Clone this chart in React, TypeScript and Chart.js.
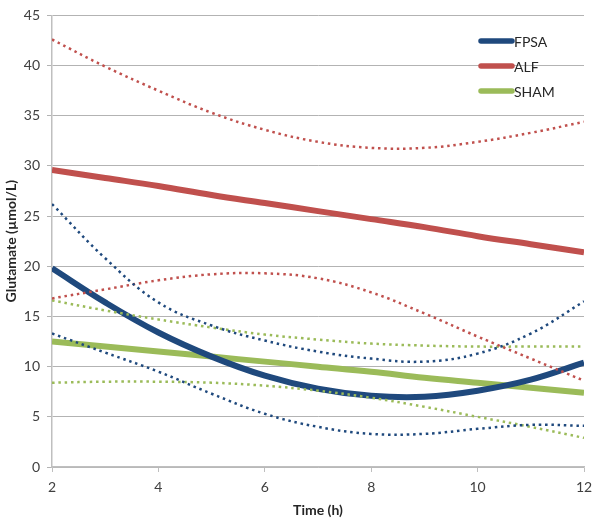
import React, { useEffect, useRef } from "react";
import { Chart, registerables } from "chart.js";
Chart.register(...registerables);

const times = [2, 3, 4, 5, 6, 7, 8, 9, 10, 11, 12];
const fpsa = [19.8, 16.4, 13.4, 11.0, 9.1, 7.8, 7.1, 7.0, 7.6, 8.7, 10.4];
const fpsaUpper = [26.2, 20.8, 16.4, 14.1, 12.6, 11.5, 10.8, 10.5, 11.3, 13.3, 16.5];
const fpsaLower = [13.3, 11.4, 9.5, 7.3, 5.3, 4.0, 3.3, 3.3, 3.8, 4.2, 4.1];
const alf = [29.6, 28.8, 28.0, 27.1, 26.3, 25.5, 24.7, 23.9, 23.0, 22.2, 21.4];
const alfUpper = [42.6, 39.9, 37.5, 35.3, 33.6, 32.4, 31.8, 31.8, 32.4, 33.3, 34.4];
const alfLower = [16.8, 17.7, 18.6, 19.2, 19.3, 18.8, 17.4, 15.3, 13.0, 10.8, 8.6];
const sham = [12.5, 12.0, 11.5, 11.0, 10.5, 10.0, 9.5, 8.9, 8.4, 7.9, 7.4];
const shamUpper = [16.6, 15.6, 14.7, 13.9, 13.2, 12.7, 12.3, 12.1, 12.0, 12.0, 12.0];
const shamLower = [8.4, 8.5, 8.5, 8.4, 8.1, 7.6, 6.9, 6.0, 5.0, 4.0, 2.9];

const seriesNames = ["FPSA", "ALF", "SHAM"];
const seriesColors = ["#1F497D", "#C0504D", "#9BBB59"];

const FONT = "Lato, 'Open Sans', sans-serif";

const toPts = (ys: number[]) => ys.map((y, i) => ({ x: times[i], y }));

export default function App() {
  const ref = useRef<HTMLCanvasElement>(null);
  useEffect(() => {
    if (!ref.current) return;
    const solid = (label: string, data: number[], color: string) => ({
      label,
      data: toPts(data),
      borderColor: color,
      backgroundColor: color,
      borderWidth: 6,
      pointRadius: 0,
      tension: 0.4,
      borderCapStyle: "butt" as const,
      order: 2,
    });
    const dotted = (label: string, data: number[], color: string) => ({
      label,
      data: toPts(data),
      borderColor: color,
      backgroundColor: color,
      borderWidth: 2.5,
      borderDash: [2.5, 3.8],
      pointRadius: 0,
      tension: 0.4,
      order: 1,
    });
    const legendPlugin = {
      id: "customLegend",
      afterDraw(chart: any) {
        const ctx = chart.ctx;
        const x0 = 481;
        const x1 = 512;
        const ys = [41, 66, 91];
        ctx.save();
        seriesNames.forEach((name, i) => {
          ctx.strokeStyle = seriesColors[i];
          ctx.lineWidth = 5.5;
          ctx.lineCap = "round";
          ctx.beginPath();
          ctx.moveTo(x0, ys[i]);
          ctx.lineTo(x1, ys[i]);
          ctx.stroke();
          ctx.fillStyle = "#262626";
          ctx.font = `14px ${FONT}`;
          ctx.textBaseline = "middle";
          ctx.textAlign = "left";
          ctx.fillText(name, x1 + 2, ys[i] + 1);
        });
        ctx.restore();
      },
    };
    const chart = new Chart(ref.current, {
      type: "line",
      data: {
        datasets: [
          dotted("FPSA upper", fpsaUpper, seriesColors[0]),
          dotted("FPSA lower", fpsaLower, seriesColors[0]),
          dotted("ALF upper", alfUpper, seriesColors[1]),
          dotted("ALF lower", alfLower, seriesColors[1]),
          dotted("SHAM upper", shamUpper, seriesColors[2]),
          dotted("SHAM lower", shamLower, seriesColors[2]),
          solid("FPSA", fpsa, seriesColors[0]),
          solid("ALF", alf, seriesColors[1]),
          solid("SHAM", sham, seriesColors[2]),
        ],
      },
      options: {
        animation: false,
        responsive: false,
        maintainAspectRatio: false,
        layout: { padding: { left: 0, right: 16, top: 9, bottom: 0 } },
        plugins: {
          legend: { display: false },
          tooltip: { enabled: false },
        },
        scales: {
          x: {
            type: "linear",
            min: 2,
            max: 12,
            ticks: {
              stepSize: 2,
              color: "#404040",
              font: { family: FONT, size: 14 },
              padding: 7,
            },
            grid: {
              drawOnChartArea: false,
              drawTicks: true,
              tickLength: 5,
              color: "#BFBFBF",
            },
            border: { display: true, color: "#BFBFBF", width: 1.5 },
            title: {
              display: true,
              text: "Time (h)",
              color: "#262626",
              font: { family: FONT, size: 14, weight: "bold" },
              padding: { top: 4, bottom: 0 },
            },
            afterFit(scale: any) {
              scale.height = 52;
            },
          },
          y: {
            min: 0,
            max: 45,
            ticks: {
              stepSize: 5,
              color: "#404040",
              font: { family: FONT, size: 14 },
              padding: 7,
            },
            grid: {
              color: "#B3B3B3",
              lineWidth: 1,
              drawTicks: true,
              tickLength: 5,
            },
            border: { display: true, color: "#BFBFBF", width: 1.5 },
            title: {
              display: true,
              text: "Glutamate (µmol/L)",
              color: "#262626",
              font: { family: FONT, size: 14, weight: "bold" },
              padding: { top: 3, bottom: 0 },
            },
            afterFit(scale: any) {
              scale.width = 52;
            },
          },
        },
      },
      plugins: [legendPlugin],
    });
    return () => chart.destroy();
  }, []);
  return (
    <div style={{ position: "fixed", left: 0, top: 0, width: 600, height: 519, background: "#fff" }}>
      <canvas ref={ref} width={600} height={519} style={{ width: 600, height: 519 }} />
    </div>
  );
}
